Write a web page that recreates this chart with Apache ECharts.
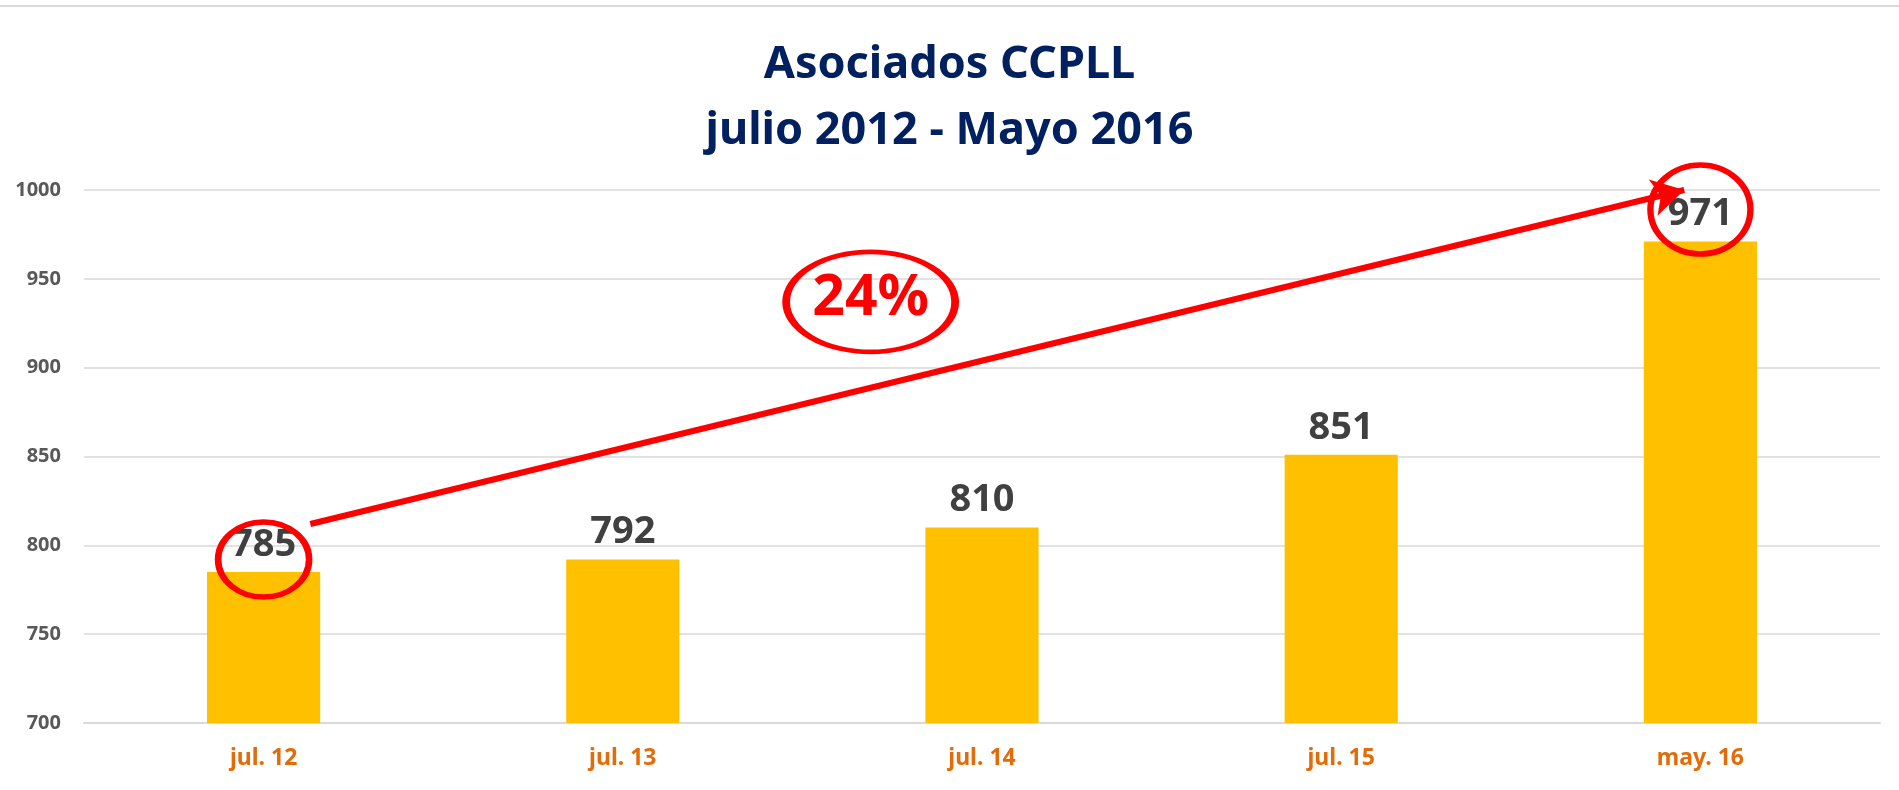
<!DOCTYPE html>
<html>
<head>
<meta charset="utf-8">
<script src="https://cdn.jsdelivr.net/npm/echarts@6/dist/echarts.min.js"></script>
<style>
  html, body { margin: 0; padding: 0; background: #fff; }
  #chart { width: 1899px; height: 790px; }
</style>
</head>
<body>
<div id="chart"></div>
<script>
const categories = ['jul. 12', 'jul. 13', 'jul. 14', 'jul. 15', 'may. 16']
const socios = [785, 792, 810, 851, 971]
const yTicks = { min: 700, max: 1000, step: 50 }

// annotation marks, in [category index, value] units
const ringMarks = [[0, 792], [4, 989]]
const growthMark = [1.69, 937]
const growthText = '24%'
const arrowFrom = [0.13, 812]
const arrowTo = [3.955, 1000]

const RED = '#ff0000'
const ELLIPSE = 'path://M0,50 A50,50 0 1,1 100,50 A50,50 0 1,1 0,50 Z'
const FONT = '"Noto Sans", sans-serif'

const chart = echarts.init(document.getElementById('chart'))

chart.setOption({
  animation: false,
  title: {
    text: 'Asociados CCPLL\njulio 2012 - Mayo 2016',
    left: 'center',
    top: 27,
    textStyle: { color: '#002060', fontSize: 45, fontWeight: 'bold', lineHeight: 66, fontFamily: FONT },
  },
  graphic: [{
    type: 'line',
    shape: { x1: 0, y1: 6, x2: 1899, y2: 6 },
    style: { stroke: '#d9d9d9', lineWidth: 2 },
  }],
  grid: { left: 84, right: 19, top: 190, bottom: 67 },
  xAxis: [{
    type: 'category',
    data: categories,
    axisTick: { show: false },
    axisLine: { lineStyle: { color: '#d9d9d9', width: 2 } },
    axisLabel: { color: '#e36c09', fontSize: 23, fontWeight: 'bold', margin: 24, fontFamily: FONT },
  }, {
    type: 'value',
    min: -0.5,
    max: 4.5,
    show: false,
  }],
  yAxis: {
    type: 'value',
    min: yTicks.min,
    max: yTicks.max,
    interval: yTicks.step,
    axisLine: { show: false },
    axisTick: { show: false },
    axisLabel: {
      color: '#595959', fontSize: 20, fontWeight: 'bold', margin: 23, fontFamily: FONT,
      formatter: v => String(v),
    },
    splitLine: { lineStyle: { color: '#d9d9d9', width: 1.5 } },
  },
  series: [{
    type: 'bar',
    data: socios,
    barWidth: '31.5%',
    itemStyle: { color: '#ffc000' },
    label: {
      show: true,
      position: 'top',
      distance: 8,
      color: '#404040',
      fontSize: 38,
      fontWeight: 'bold',
      fontFamily: FONT,
    },
  }, {
    type: 'scatter',
    xAxisIndex: 1,
    data: ringMarks,
    symbol: ELLIPSE,
    symbolSize: (v, p) => (p.dataIndex === 0 ? [91, 75] : [100, 89]),
    itemStyle: { color: 'rgba(0,0,0,0)', borderColor: RED, borderWidth: 6, opacity: 1 },
    z: 5,
    silent: true,
  }, {
    type: 'scatter',
    xAxisIndex: 1,
    data: [growthMark],
    symbol: ELLIPSE,
    symbolSize: [169, 100],
    itemStyle: { color: 'rgba(0,0,0,0)', borderColor: RED, borderWidth: 6, opacity: 1 },
    label: {
      show: true,
      position: 'inside',
      formatter: growthText,
      color: RED,
      fontSize: 57,
      fontWeight: 'bold',
      fontFamily: FONT,
      offset: [0, -3],
    },
    z: 5,
    silent: true,
    markLine: {
      silent: true,
      symbol: ['none', 'arrow'],
      symbolSize: [28, 32],
      label: { show: false },
      lineStyle: { color: RED, width: 6, type: 'solid', opacity: 1 },
      itemStyle: { color: RED },
      data: [[{ coord: arrowFrom }, { coord: arrowTo }]],
    },
  }],
})

window.addEventListener('resize', () => chart.resize())
</script>
</body>
</html>
